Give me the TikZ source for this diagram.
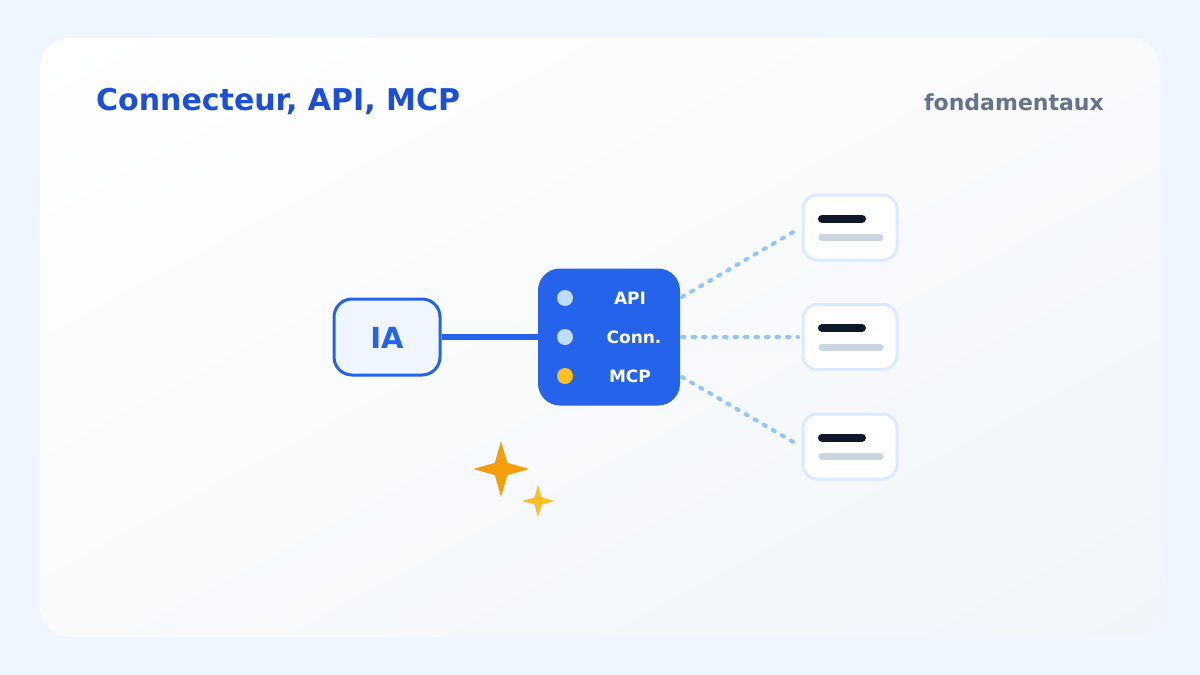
\documentclass[tikz,border=0pt]{standalone}
\usepackage{fontspec}
\setmainfont{DejaVu Sans}
\usetikzlibrary{calc,shadings}
\definecolor{pagebg}{HTML}{EFF6FF}
\definecolor{cardend}{HTML}{F1F5F9}
\definecolor{blue6}{HTML}{2563EB}
\definecolor{blue7}{HTML}{1D4ED8}
\definecolor{blue50}{HTML}{EFF6FF}
\definecolor{blue100}{HTML}{DBEAFE}
\definecolor{blue200}{HTML}{BFDBFE}
\definecolor{blue300}{HTML}{93C5FD}
\definecolor{amber4}{HTML}{FBBF24}
\definecolor{amber5}{HTML}{F59E0B}
\definecolor{slate9}{HTML}{0F172A}
\definecolor{slate3}{HTML}{CBD5E1}
\definecolor{slate5}{HTML}{64748B}
\tikzset{
  iabox/.style={draw=blue6, line width=3pt, fill=blue50, rounded corners=18pt, minimum width=106pt, minimum height=76pt, inner sep=0pt},
  hubbox/.style={fill=blue6, rounded corners=22pt, minimum width=142pt, minimum height=137pt, inner sep=0pt},
  srcbox/.style={draw=blue100, line width=3pt, fill=white, rounded corners=14pt, minimum width=94pt, minimum height=65pt, inner sep=0pt},
  hublabel/.style={text=white, font=\fontsize{17}{19}\selectfont\bfseries},
  dotlink/.style={draw=blue300, line width=4pt, line cap=round, dash pattern=on 2.5pt off 8pt},
  darkbar/.style={draw=slate9, line width=8pt, line cap=round},
  lightbar/.style={draw=slate3, line width=7pt, line cap=round},
}
\newcommand{\sparkle}[4]{\fill[#4] (#1,#2) ++(0,#3) -- ++(0.22*#3,-0.78*#3) -- ++(0.78*#3,-0.22*#3) -- ++(-0.78*#3,-0.22*#3) -- ++(-0.22*#3,-0.78*#3) -- ++(-0.22*#3,0.78*#3) -- ++(-0.78*#3,0.22*#3) -- ++(0.78*#3,0.22*#3) -- cycle;}
\begin{document}
\begin{tikzpicture}[x=1pt,y=-1pt]
\fill[pagebg] (0,0) rectangle (1200,675);
\useasboundingbox (0,0) rectangle (1200,675);
\shade[rounded corners=30pt, upper left=white, lower right=cardend, upper right=white!50!cardend, lower left=white!50!cardend] (40,38) rectangle (1160,637);
\node[anchor=base west, inner sep=0pt, text=blue7, font=\fontsize{30}{34}\selectfont\bfseries] (title) at (96,110) {Connecteur, API, MCP};
\node[anchor=base east, inner sep=0pt, text=slate5, font=\fontsize{22}{26}\selectfont\bfseries] (tag) at (1104,110) {fondamentaux};
\node[iabox] (ia) at (387,337) {};
\node[text=blue6, font=\fontsize{29}{33}\selectfont\bfseries] (ialabel) at (387,338) {IA};
\node[hubbox] (hub) at (609,337) {};
\draw[blue6, line width=6pt] (ia.east) -- (hub.west);
\fill[blue200] (565,298) circle (8pt);
\fill[blue200] (565,337) circle (8pt);
\fill[amber4] (565,376) circle (8pt);
\node[hublabel] (lapi) at (630,298) {API};
\node[hublabel] (lconn) at (634,337) {Conn.};
\node[hublabel] (lmcp) at (630,376) {MCP};
\node[srcbox] (s1) at (850,227.5) {};
\node[srcbox] (s2) at (850,337) {};
\node[srcbox] (s3) at (850,446.5) {};
\foreach \s in {s1,s2,s3}{
  \draw[darkbar] ($(\s.center)+(-28,-9)$) -- ($(\s.center)+(12,-9)$);
  \draw[lightbar] ($(\s.center)+(-28,10)$) -- ($(\s.center)+(30,10)$);
}
\coordinate (h1) at (682,297);
\coordinate (h2) at (682,337);
\coordinate (h3) at (682,377);
\coordinate (e1) at (795,231);
\coordinate (e2) at (798,337);
\coordinate (e3) at (795,443);
\draw[dotlink] (h1) -- (e1);
\draw[dotlink] (h2) -- (e2);
\draw[dotlink] (h3) -- (e3);
\sparkle{501}{469}{-28}{amber5}
\sparkle{538}{501}{-16}{amber4}
\end{tikzpicture}
\end{document}
